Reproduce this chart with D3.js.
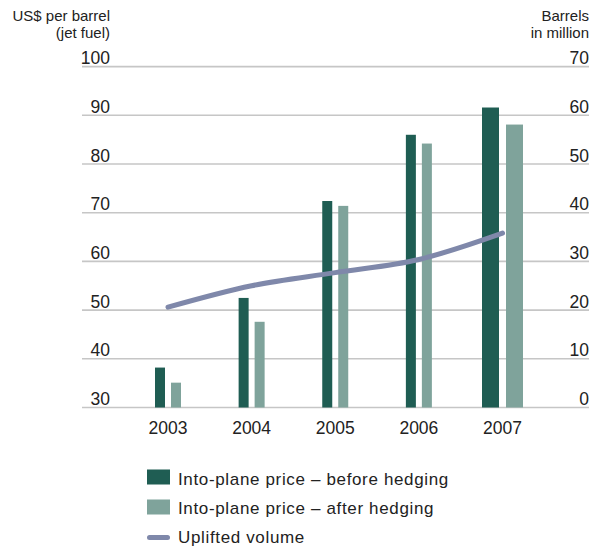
<!DOCTYPE html>
<html>
<head>
<meta charset="utf-8">
<script src="https://cdn.jsdelivr.net/npm/d3@7"></script>
<style>
  html, body { margin: 0; padding: 0; background: #fff; }
  svg { display: block; font-family: "Liberation Sans", Arial, sans-serif; }
</style>
</head>
<body>
<svg id="chart" width="593" height="547"></svg>
<script>
// Jet fuel prices (US$ per barrel) and uplifted volume (million barrels)
const years = ["2003", "2004", "2005", "2006", "2007"];
const priceBefore = [38.2, 52.5, 72.4, 86.0, 91.6];
const priceAfter = [35.1, 47.6, 71.4, 84.2, 88.1];
const volume = [20.6, 25.0, 27.7, 30.4, 35.8];
const leftTicks = [30, 40, 50, 60, 70, 80, 90, 100];
const rightTicks = [0, 10, 20, 30, 40, 50, 60, 70];
const seriesNames = ["Into-plane price – before hedging", "Into-plane price – after hedging", "Uplifted volume"];

const colDark = "#1f5d53";
const colLight = "#7fa39b";
const colLine = "#7f88aa";
const colGrid = "#c6c6c6";
const colText = "#222";

const svg = d3.select("#chart");

const gridLeft = 82, gridRight = 589;
const yLeft = d3.scaleLinear().domain([30, 100]).range([407.5, 66.6]);
const yRight = d3.scaleLinear().domain([0, 70]).range([407.5, 66.6]);
const x = d3.scalePoint().domain(years).range([168, 502.5]);

// gridlines with left and right tick labels
const grid = svg.append("g");
leftTicks.forEach((t, i) => {
  const y = yLeft(t);
  grid.append("line")
    .attr("x1", gridLeft).attr("x2", gridRight)
    .attr("y1", y).attr("y2", y)
    .attr("stroke", colGrid).attr("stroke-width", 1.6);
  grid.append("text")
    .attr("x", 110).attr("y", y - 2.5)
    .attr("text-anchor", "end")
    .attr("font-size", 17.5).attr("fill", colText)
    .text(t);
  grid.append("text")
    .attr("x", 589).attr("y", yRight(rightTicks[i]) - 2.5)
    .attr("text-anchor", "end")
    .attr("font-size", 17.5).attr("fill", colText)
    .text(rightTicks[i]);
});

// axis titles
const titleL = svg.append("text").attr("text-anchor", "end").attr("font-size", 15).attr("fill", colText);
titleL.append("tspan").attr("x", 110).attr("y", 21).text("US$ per barrel");
titleL.append("tspan").attr("x", 110).attr("y", 38).text("(jet fuel)");
const titleR = svg.append("text").attr("text-anchor", "end").attr("font-size", 15).attr("fill", colText);
titleR.append("tspan").attr("x", 589).attr("y", 21).text("Barrels");
titleR.append("tspan").attr("x", 589).attr("y", 38).text("in million");

// bars: before hedging (dark) and after hedging (light) around each year
const barW = i => (i === years.length - 1 ? 17 : 10);
const gap = i => (i === years.length - 1 ? 7 : 6);
const bars = svg.append("g");
years.forEach((yr, i) => {
  const cx = x(yr), w = barW(i), g = gap(i);
  bars.append("rect")
    .attr("x", cx - g / 2 - w).attr("width", w)
    .attr("y", yLeft(priceBefore[i]))
    .attr("height", yLeft(30) - yLeft(priceBefore[i]))
    .attr("fill", colDark);
  bars.append("rect")
    .attr("x", cx + g / 2).attr("width", w)
    .attr("y", yLeft(priceAfter[i]))
    .attr("height", yLeft(30) - yLeft(priceAfter[i]))
    .attr("fill", colLight);
});

// uplifted volume line on the right axis
const line = d3.line()
  .x((d, i) => x(years[i]))
  .y(d => yRight(d))
  .curve(d3.curveMonotoneX);
svg.append("path")
  .datum(volume)
  .attr("d", line)
  .attr("fill", "none")
  .attr("stroke", colLine)
  .attr("stroke-width", 5)
  .attr("stroke-linecap", "round")
  .attr("stroke-linejoin", "round");

// year labels
svg.append("g").selectAll("text")
  .data(years).join("text")
  .attr("x", d => x(d)).attr("y", 434)
  .attr("text-anchor", "middle")
  .attr("font-size", 17.5).attr("fill", colText)
  .text(d => d);

// legend
const legend = svg.append("g");
const legY = [469.5, 499.5];
[colDark, colLight].forEach((c, i) => {
  legend.append("rect")
    .attr("x", 147).attr("y", legY[i]).attr("width", 23).attr("height", 15)
    .attr("fill", c);
});
legend.append("line")
  .attr("x1", 149.5).attr("x2", 167.5).attr("y1", 537.5).attr("y2", 537.5)
  .attr("stroke", colLine).attr("stroke-width", 5).attr("stroke-linecap", "round");
seriesNames.forEach((n, i) => {
  legend.append("text")
    .attr("x", 178).attr("y", 485 + i * 29)
    .attr("font-size", 17).attr("letter-spacing", 0.65).attr("fill", colText)
    .text(n);
});
</script>
</body>
</html>
